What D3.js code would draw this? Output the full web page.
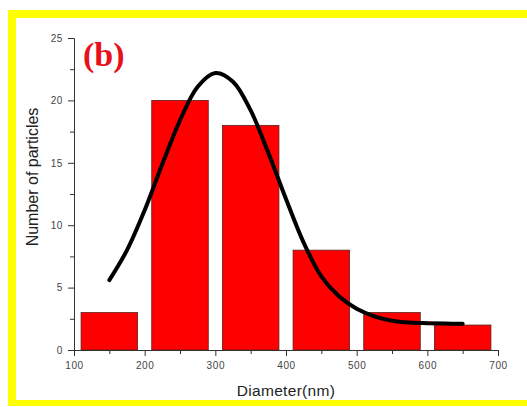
<!DOCTYPE html>
<html>
<head>
<meta charset="utf-8">
<script src="https://cdn.jsdelivr.net/npm/d3@7"></script>
<style>
  html, body { margin: 0; padding: 0; background: #fff; }
  svg { display: block; font-family: "Liberation Sans", Arial, sans-serif; }
</style>
</head>
<body>
<div id="chart"></div>
<script>
// histogram bins (nm) and counts
const binStarts = [110, 210, 310, 410, 510, 610];
const binEnds = [190, 290, 390, 490, 590, 690];
const counts = [3, 20, 18, 8, 3, 2];

// fitted curve
const fitX = [150, 175, 200, 225, 250, 275, 300, 325, 350, 375, 400, 425, 450, 475, 500, 525, 550, 575, 600, 625, 650];
const fitY = [5.6, 8.0, 11.2, 14.9, 18.4, 21.1, 22.2, 21.5, 19.2, 15.8, 12.1, 8.6, 5.9, 4.3, 3.3, 2.7, 2.35, 2.2, 2.15, 2.12, 2.1];

const xTicks = [100, 200, 300, 400, 500, 600, 700];
const xMinor = [150, 250, 350, 450, 550, 650];
const yTicks = [0, 5, 10, 15, 20, 25];
const yMinor = [2.5, 7.5, 12.5, 17.5, 22.5];

const W = 527, H = 407;
const svg = d3.select("#chart").append("svg")
    .attr("width", W)
    .attr("height", H);

// yellow frame (right side runs off the image)
svg.append("rect").attr("x", 8).attr("y", 10).attr("width", W).attr("height", 8).attr("fill", "#ffff00");
svg.append("rect").attr("x", 8).attr("y", 10).attr("width", 8).attr("height", 396).attr("fill", "#ffff00");
svg.append("rect").attr("x", 8).attr("y", 400).attr("width", W).attr("height", 6).attr("fill", "#ffff00");

const x = d3.scaleLinear().domain([100, 700]).range([74, 498]);
const y = d3.scaleLinear().domain([0, 25]).range([350, 38]);

// bars
svg.append("g").selectAll("rect")
  .data(counts)
  .enter()
  .append("rect")
    .attr("x", (d, i) => x(binStarts[i]))
    .attr("y", d => y(d))
    .attr("width", (d, i) => x(binEnds[i]) - x(binStarts[i]))
    .attr("height", d => y(0) - y(d))
    .attr("fill", "#ff0000")
    .attr("stroke", "#5a2020")
    .attr("stroke-width", 0.8);

// curve
const line = d3.line()
    .x(d => x(d[0]))
    .y(d => y(d[1]))
    .curve(d3.curveCatmullRom);

svg.append("path")
    .datum(fitX.map((v, i) => [v, fitY[i]]))
    .attr("d", line)
    .attr("fill", "none")
    .attr("stroke", "#000")
    .attr("stroke-width", 4)
    .attr("stroke-linecap", "round");

// axes
function styleAxis(g) {
  g.selectAll("path, line").attr("stroke", "#333").attr("stroke-width", 1);
  g.selectAll("text")
    .attr("fill", "#444")
    .style("font-size", "10px")
    .style("letter-spacing", "0.6px");
}

svg.append("g")
    .attr("transform", "translate(0," + y(0) + ")")
    .call(d3.axisBottom(x).tickValues(xTicks).tickSize(6).tickSizeOuter(0).tickPadding(6))
    .call(styleAxis);
svg.append("g")
    .attr("transform", "translate(0," + y(0) + ")")
    .call(d3.axisBottom(x).tickValues(xMinor).tickSize(4).tickSizeOuter(0).tickFormat(""))
    .call(styleAxis);

svg.append("g")
    .attr("transform", "translate(" + x(100) + ",0)")
    .call(d3.axisLeft(y).tickValues(yTicks).tickSize(6).tickSizeOuter(0).tickPadding(5))
    .call(styleAxis);
svg.append("g")
    .attr("transform", "translate(" + x(100) + ",0)")
    .call(d3.axisLeft(y).tickValues(yMinor).tickSize(4).tickSizeOuter(0).tickFormat(""))
    .call(styleAxis);

// titles
svg.append("text")
    .attr("x", 286)
    .attr("y", 396)
    .attr("text-anchor", "middle")
    .attr("fill", "#222")
    .style("font-size", "15.5px")
    .style("letter-spacing", "0.3px")
    .text("Diameter(nm)");

svg.append("text")
    .attr("transform", "translate(38,177) rotate(-90)")
    .attr("text-anchor", "middle")
    .attr("fill", "#222")
    .style("font-size", "16px")
    .text("Number of particles");

svg.append("text")
    .attr("x", 83)
    .attr("y", 66)
    .attr("fill", "#e8101a")
    .style("font-family", "'Liberation Serif', 'Times New Roman', serif")
    .style("font-weight", "bold")
    .style("font-size", "34px")
    .text("(b)");
</script>
</body>
</html>
